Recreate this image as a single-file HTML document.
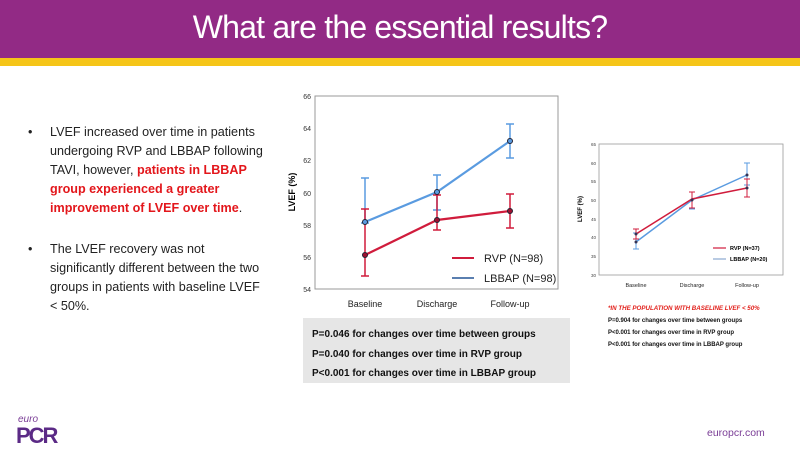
<!DOCTYPE html>
<html><head><meta charset="utf-8"><style>
body{margin:0;width:800px;height:450px;overflow:hidden;background:#fff;font-family:"Liberation Sans",sans-serif;position:relative}
.hdr{position:absolute;left:0;top:0;width:800px;height:58px;background:#922a85}
.yl{position:absolute;left:0;top:58px;width:800px;height:8px;background:#f5c518}
.title{position:absolute;left:0;top:9px;width:800px;text-align:center;color:#fff;font-size:32px;letter-spacing:-0.8px}
.bul{position:absolute;left:28px;font-size:12.6px;line-height:19px;color:#222}
.bul span.d{position:absolute;left:0}
.bul div{margin-left:22px}
.red{color:#e3161b;font-weight:bold}
</style></head><body>
<div class="hdr"></div><div class="yl"></div>
<div class="title">What are the essential results?</div>
<div class="bul" style="top:123px;width:240px"><span class="d">•</span><div>LVEF increased over time in patients undergoing RVP and LBBAP following TAVI, however, <span class="red">patients in LBBAP group experienced a greater improvement of LVEF over time</span>.</div></div>
<div class="bul" style="top:240px;width:240px"><span class="d">•</span><div>The LVEF recovery was not significantly different between the two groups in patients with baseline LVEF &lt; 50%.</div></div>
<div style="position:absolute;left:303px;top:318px;width:267px;height:65px;background:#e6e6e6"></div>
<div style="position:absolute;left:312px;top:325px;font-size:10px;font-weight:bold;line-height:19.5px;color:#111">P=0.046 for changes over time between groups<br>P=0.040 for changes over time in RVP group<br>P&lt;0.001 for changes over time in LBBAP group</div>
<svg width="800" height="450" style="position:absolute;left:0;top:0" font-family="Liberation Sans, sans-serif">
<rect x="315" y="96" width="243" height="193" fill="none" stroke="#999" stroke-width="1"/>
<g font-size="7" fill="#333" text-anchor="end">
<text x="311" y="99">66</text><text x="311" y="131">64</text><text x="311" y="163">62</text><text x="311" y="196">60</text><text x="311" y="228">58</text><text x="311" y="260">56</text><text x="311" y="292">54</text></g>
<text transform="translate(295,192) rotate(-90)" font-size="9" font-weight="bold" text-anchor="middle">LVEF (%)</text>
<g font-size="9" fill="#222" text-anchor="middle"><text x="365" y="307">Baseline</text><text x="437" y="307">Discharge</text><text x="510" y="307">Follow-up</text></g>
<g stroke="#5a9be0" stroke-width="1.5" fill="none">
<path d="M365,178V223M361,178h8M361,223h8M437,175V210M433,175h8M433,210h8M510,124V158M506,124h8M506,158h8"/>
<polyline points="365,222 437,192 510,141" stroke-width="2.2"/></g>
<g stroke="#d01c3c" stroke-width="1.5" fill="none">
<path d="M365,209V276M361,209h8M361,276h8M437,195V230M433,195h8M433,230h8M510,194V228M506,194h8M506,228h8"/>
<polyline points="365,255 437,220 510,211" stroke-width="2.2"/></g>
<g stroke="#223" stroke-width="1"><circle cx="365" cy="222" r="2.5" fill="#5a9be0"/><circle cx="437" cy="192" r="2.5" fill="#5a9be0"/><circle cx="510" cy="141" r="2.5" fill="#5a9be0"/>
<circle cx="365" cy="255" r="2.5" fill="#a01030"/><circle cx="437" cy="220" r="2.5" fill="#a01030"/><circle cx="510" cy="211" r="2.5" fill="#a01030"/></g>
<line x1="452" y1="258" x2="474" y2="258" stroke="#d01c3c" stroke-width="2"/>
<line x1="452" y1="278" x2="474" y2="278" stroke="#5a7fb0" stroke-width="2"/>
<text x="484" y="262" font-size="11" fill="#222">RVP (N=98)</text>
<text x="484" y="282" font-size="11" fill="#222">LBBAP (N=98)</text>
<rect x="599" y="144" width="184" height="131" fill="none" stroke="#999" stroke-width="0.8"/>
<g font-size="4.5" fill="#444" text-anchor="end">
<text x="596" y="146">65</text><text x="596" y="165">60</text><text x="596" y="183">55</text><text x="596" y="202">50</text><text x="596" y="221">45</text><text x="596" y="239">40</text><text x="596" y="258">35</text><text x="596" y="277">30</text></g>
<text transform="translate(582,209) rotate(-90)" font-size="6" font-weight="bold" text-anchor="middle">LVEF (%)</text>
<g font-size="5.5" fill="#222" text-anchor="middle"><text x="636" y="287">Baseline</text><text x="692" y="287">Discharge</text><text x="747" y="287">Follow-up</text></g>
<g stroke="#5a9be0" stroke-width="1" fill="none"><path d="M636,233V249M633,233h6M633,249h6M692,192V209M689,192h6M689,209h6M747,163V185M744,163h6M744,185h6"/>
<polyline points="636,242 692,200 747,175" stroke-width="1.5"/></g>
<g stroke="#d01c3c" stroke-width="1" fill="none"><path d="M636,229V239M633,229h6M633,239h6M692,192V208M689,192h6M689,208h6M747,179V197M744,179h6M744,197h6"/>
<polyline points="636,234 692,199 747,188" stroke-width="1.5"/></g>
<g fill="#335"><circle cx="636" cy="242" r="1.5"/><circle cx="692" cy="200" r="1.5"/><circle cx="747" cy="175" r="1.5"/><circle cx="636" cy="234" r="1.5"/><circle cx="747" cy="188" r="1.5"/></g>
<line x1="713" y1="248" x2="726" y2="248" stroke="#d01c3c" stroke-width="1.2"/>
<line x1="713" y1="259" x2="726" y2="259" stroke="#8aa8d0" stroke-width="1.2"/>
<text x="730" y="250" font-size="5.5" font-weight="bold">RVP (N=37)</text>
<text x="730" y="261" font-size="5.5" font-weight="bold">LBBAP (N=20)</text>
<text x="608" y="310" font-size="6.2" font-weight="bold" font-style="italic" fill="#e2211c">*IN THE POPULATION WITH BASELINE LVEF &lt; 50%</text>
<g font-size="6" font-weight="bold" fill="#111"><text x="608" y="322">P=0.904 for changes over time between groups</text><text x="608" y="334">P&lt;0.001 for changes over time in RVP group</text><text x="608" y="346">P&lt;0.001 for changes over time in LBBAP group</text></g>
<text x="18" y="422" font-size="10" font-style="italic" fill="#7a3d96">euro</text>
<text x="16" y="443" font-size="22" font-weight="bold" fill="#5b2a86" letter-spacing="-2">PCR</text>
<text x="707" y="436" font-size="10.5" fill="#7a3d96">europcr.com</text>
</svg>
</body></html>
